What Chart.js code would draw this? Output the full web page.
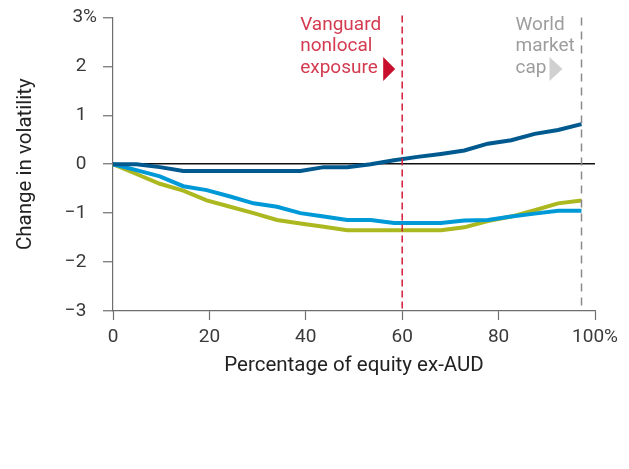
<!DOCTYPE html>
<html lang="en">
<head>
    <meta charset="UTF-8">
    <script src="https://cdn.jsdelivr.net/npm/chart.js"></script>
    <title>Change in volatility</title>
    <style>
        body { margin: 0; background: #fff; }
    </style>
</head>
<body>
    <canvas id="chartVol" width="629" height="469"></canvas>

    <script>
        // Percentage of equity ex-AUD (x positions of the readings)
        var equityExAud = [0, 4.86, 9.72, 14.58, 19.44, 24.3, 29.16, 34.02, 38.88, 43.74, 48.6,
                           53.46, 58.32, 63.18, 68.04, 72.9, 77.76, 82.62, 87.48, 92.34, 97.2];
        // Change in volatility (%)
        var darkBlueSeries  = [0, 0, -0.06, -0.14, -0.14, -0.14, -0.14, -0.14, -0.14, -0.06, -0.06,
                               0, 0.08, 0.15, 0.21, 0.28, 0.42, 0.49, 0.62, 0.7, 0.82];
        var lightBlueSeries = [0, -0.12, -0.25, -0.45, -0.53, -0.66, -0.8, -0.87, -1.0, -1.07, -1.14,
                               -1.14, -1.2, -1.2, -1.2, -1.15, -1.14, -1.07, -1.01, -0.95, -0.95];
        var greenSeries     = [0, -0.2, -0.4, -0.54, -0.74, -0.87, -1.0, -1.14, -1.21, -1.28, -1.35,
                               -1.35, -1.35, -1.35, -1.35, -1.29, -1.16, -1.07, -0.94, -0.8, -0.74];
        // marker lines
        var vanguardNonlocal = 60;
        var worldMarketCap = 97.2;
        var xTicks = [0, 20, 40, 60, 80, 100];
        var yTicks = [-3, -2, -1, 0, 1, 2, 3];

        function toPoints(values) {
            return equityExAud.map(function(x, i) { return { x: x, y: values[i] }; });
        }

        var fontFamily = 'Roboto, "Liberation Sans", sans-serif';

        // text labels next to the dashed lines
        var markerLabels = {
            id: 'markerLabels',
            afterDraw: function(chart) {
                var ctx = chart.ctx;
                var xs = chart.scales.x;
                var redX = xs.getPixelForValue(vanguardNonlocal);
                var grayX = xs.getPixelForValue(worldMarketCap);
                ctx.save();
                ctx.font = '19px ' + fontFamily;
                ctx.textBaseline = 'middle';
                ctx.textAlign = 'left';

                ctx.fillStyle = '#d43a50';
                ['Vanguard', 'nonlocal', 'exposure'].forEach(function(t, i) {
                    ctx.fillText(t, redX - 102, 25 + i * 21.7);
                });
                ctx.fillStyle = '#c8102e';
                ctx.beginPath();
                ctx.moveTo(redX - 19, 57);
                ctx.lineTo(redX - 7, 69);
                ctx.lineTo(redX - 19, 81);
                ctx.closePath();
                ctx.fill();

                ctx.fillStyle = '#9d9d9d';
                ['World', 'market', 'cap'].forEach(function(t, i) {
                    ctx.fillText(t, grayX - 66, 25 + i * 21.7);
                });
                ctx.fillStyle = '#d0d0d0';
                ctx.beginPath();
                ctx.moveTo(grayX - 32, 57);
                ctx.lineTo(grayX - 19, 69);
                ctx.lineTo(grayX - 32, 81);
                ctx.closePath();
                ctx.fill();
                ctx.restore();
            }
        };

        var ctxVol = document.getElementById('chartVol').getContext('2d');
        var chartVol = new Chart(ctxVol, {
            type: 'line',
            data: {
                datasets: [{
                    label: 'Vanguard nonlocal exposure',
                    data: [{ x: vanguardNonlocal, y: 3.04 }, { x: vanguardNonlocal, y: -3 }],
                    borderColor: '#d21f3c',
                    borderWidth: 1.5,
                    borderDash: [7, 4],
                    pointRadius: 0
                }, {
                    label: 'World market cap',
                    data: [{ x: worldMarketCap, y: 3 }, { x: worldMarketCap, y: -3 }],
                    borderColor: '#8a8a8a',
                    borderWidth: 1.5,
                    borderDash: [8, 6],
                    pointRadius: 0
                }, {
                    label: 'Dark blue',
                    data: toPoints(darkBlueSeries),
                    borderColor: '#00598f',
                    borderWidth: 4,
                    pointRadius: 0
                }, {
                    label: 'Light blue',
                    data: toPoints(lightBlueSeries),
                    borderColor: '#0099d8',
                    borderWidth: 4,
                    pointRadius: 0
                }, {
                    label: 'Green',
                    data: toPoints(greenSeries),
                    borderColor: '#abb81f',
                    borderWidth: 4,
                    pointRadius: 0
                }]
            },
            options: {
                responsive: false,
                animation: false,
                clip: false,
                layout: { padding: { left: 0, top: 9, right: 34, bottom: 90 } },
                plugins: {
                    legend: { display: false },
                    tooltip: { enabled: false }
                },
                scales: {
                    x: {
                        type: 'linear',
                        min: 0,
                        max: 100,
                        afterBuildTicks: function(scale) {
                            scale.ticks = xTicks.map(function(v) { return { value: v }; });
                        },
                        afterFit: function(scale) { scale.height = 68; },
                        border: { color: '#6e6e6e', width: 1.2 },
                        grid: { drawOnChartArea: false, drawTicks: true, tickLength: 9, tickColor: '#6e6e6e', tickWidth: 1.2 },
                        ticks: {
                            padding: 6,
                            color: '#3a3a3a',
                            font: { family: fontFamily, size: 19 },
                            callback: function(v) { return v === 100 ? '100%' : v; }
                        },
                        title: {
                            display: true,
                            text: 'Percentage of equity ex-AUD',
                            color: '#222',
                            font: { family: fontFamily, size: 20.5 },
                            padding: { top: 0, bottom: 1 }
                        }
                    },
                    y: {
                        min: -3,
                        max: 3,
                        afterBuildTicks: function(scale) {
                            scale.ticks = yTicks.map(function(v) { return { value: v }; });
                        },
                        afterFit: function(scale) { scale.width = 113; },
                        border: { color: '#6e6e6e', width: 1.2 },
                        grid: {
                            drawOnChartArea: true,
                            drawTicks: true,
                            tickLength: 10,
                            lineWidth: 1.5,
                            color: function(c) { return c.tick && c.tick.value === 0 ? '#111' : 'rgba(0,0,0,0)'; },
                            tickColor: '#6e6e6e',
                            tickWidth: 1.2
                        },
                        ticks: {
                            padding: 6,
                            color: '#3a3a3a',
                            font: { family: fontFamily, size: 19 },
                            callback: function(v) {
                                if (v === 3) return '3%';
                                // pad so the "%" of the top label hangs to the right
                                return (v < 0 ? '\u2212' + Math.abs(v) : String(v)) + '\u2007';
                            }
                        },
                        title: {
                            display: true,
                            text: 'Change in volatility',
                            color: '#222',
                            font: { family: fontFamily, size: 20.5 },
                            padding: { top: 14, bottom: 0 }
                        }
                    }
                }
            },
            plugins: [markerLabels]
        });
    </script>
</body>
</html>
